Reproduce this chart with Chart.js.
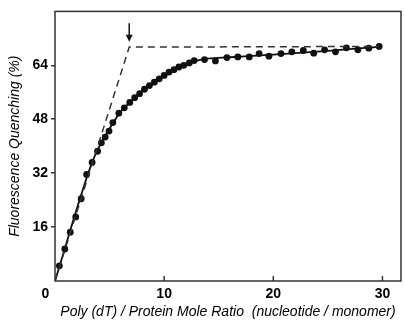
<!DOCTYPE html>
<html>
<head>
<meta charset="utf-8">
<script src="https://cdn.jsdelivr.net/npm/chart.js@4.4.0/dist/chart.umd.min.js"></script>
<style>
html, body { margin: 0; padding: 0; background: #fff; }
</style>
</head>
<body>
<canvas id="chartOne" width="405" height="320"></canvas>
<script>
// measured points (poly(dT)/protein ratio vs % quenching)
let ratio = [0.4, 0.9, 1.4, 1.9, 2.4, 2.9, 3.4, 3.9, 4.25, 4.6, 4.95, 5.3, 5.85, 6.35, 6.85, 7.3, 7.75, 8.2, 8.65, 9.1, 9.55, 10.0, 10.45, 10.9, 11.35, 11.8, 12.3, 12.75, 13.7, 14.7, 15.75, 16.75, 17.8, 18.7, 19.6, 20.7, 21.7, 22.75, 23.7, 24.7, 25.7, 26.7, 27.75, 28.75, 29.7];
let quench = [4.5, 9.5, 14.5, 19.0, 24.4, 31.6, 35.2, 38.5, 41.0, 42.7, 44.5, 47.0, 49.8, 51.4, 53.0, 54.4, 55.6, 56.9, 58.0, 59.0, 60.0, 61.0, 62.0, 62.7, 63.5, 64.0, 64.7, 65.4, 65.7, 65.3, 66.3, 66.5, 66.5, 67.5, 66.7, 67.5, 68.0, 68.4, 67.6, 68.6, 68.0, 69.2, 68.6, 69.1, 69.6];

// solid fitted curve
let fitX = [0, 3.4, 4.2, 5, 6, 7, 8, 9, 10, 11, 12, 13, 14, 16, 20, 25, 29.7];
let fitY = [0, 35.2, 40.8, 45.2, 50.2, 53.4, 56.4, 58.9, 61.0, 62.8, 64.4, 65.4, 66.0, 66.4, 67.2, 68.3, 69.5];

// dashed extrapolation lines
let dashX = [0, 6.8, 29.7];
let dashY = [0, 69.4, 69.6];

let xTicks = [0, 10, 20, 30];
let yTicks = [16, 32, 48, 64];
let arrowAt = [6.8, 76.5, 71]; // x, top, tip

function toXY(xs, ys) {
    return xs.map((v, i) => ({ x: v, y: ys[i] }));
}

const framePlugin = {
    id: 'frame',
    afterDatasetsDraw(chart) {
        const ctx = chart.ctx;
        const a = chart.chartArea;
        const sx = chart.scales.x, sy = chart.scales.y;
        ctx.save();
        ctx.strokeStyle = '#333';
        ctx.lineWidth = 1.5;
        ctx.strokeRect(a.left, a.top, a.right - a.left, a.bottom - a.top);
        // inner ticks on the x axis
        xTicks.forEach(v => {
            if (v === 0) return;
            const px = sx.getPixelForValue(v);
            ctx.beginPath();
            ctx.moveTo(px, a.bottom);
            ctx.lineTo(px, a.bottom - 5);
            ctx.stroke();
        });
        // arrow marking the break point
        const ax = sx.getPixelForValue(arrowAt[0]);
        const yTop = sy.getPixelForValue(arrowAt[1]);
        const yTip = sy.getPixelForValue(arrowAt[2]);
        ctx.strokeStyle = '#111';
        ctx.fillStyle = '#111';
        ctx.lineWidth = 1.5;
        ctx.beginPath();
        ctx.moveTo(ax, yTop);
        ctx.lineTo(ax, yTip - 5);
        ctx.stroke();
        ctx.beginPath();
        ctx.moveTo(ax - 3.5, yTip - 7);
        ctx.lineTo(ax + 3.5, yTip - 7);
        ctx.lineTo(ax, yTip);
        ctx.closePath();
        ctx.fill();
        ctx.restore();
    }
};

var ctxOne = document.getElementById('chartOne').getContext('2d');
var chartOne = new Chart(ctxOne, {
    type: 'scatter',
    data: {
        datasets: [{
            label: 'dashed',
            data: toXY(dashX, dashY),
            showLine: true,
            borderColor: '#333',
            borderWidth: 1.5,
            borderDash: [7, 5],
            pointRadius: 0
        }, {
            label: 'fit',
            data: toXY(fitX, fitY),
            showLine: true,
            borderColor: '#111',
            borderWidth: 1.8,
            cubicInterpolationMode: 'monotone',
            pointRadius: 0
        }, {
            label: 'data',
            data: toXY(ratio, quench),
            showLine: false,
            pointRadius: 3.4,
            pointBackgroundColor: '#111',
            pointBorderColor: '#111',
            pointBorderWidth: 0
        }]
    },
    options: {
        responsive: false,
        animation: false,
        layout: { padding: { top: 11, right: 1 } },
        plugins: {
            legend: { display: false },
            tooltip: { enabled: false }
        },
        scales: {
            x: {
                type: 'linear',
                min: 0,
                max: 31.7,
                afterBuildTicks: s => { s.ticks = xTicks.map(v => ({ value: v })); },
                afterFit: s => { s.height = 39; },
                grid: { display: true, drawOnChartArea: false, drawTicks: false },
                border: { display: false },
                ticks: {
                    padding: 5,
                    color: '#000',
                    maxRotation: 0,
                    // the 0 sits a little left of the corner in the original
                    callback: v => v === 0 ? '0     ' : v,
                    font: { family: "'Liberation Sans', Arial, sans-serif", size: 14, weight: 'bold' }
                },
                title: {
                    display: true,
                    text: 'Poly (dT) / Protein Mole Ratio  (nucleotide / monomer)',
                    color: '#000',
                    padding: { top: 0, bottom: 0 },
                    font: { family: "'Liberation Sans', Arial, sans-serif", size: 14, style: 'italic', lineHeight: 1.1 }
                }
            },
            y: {
                min: 0,
                max: 80,
                afterBuildTicks: s => { s.ticks = yTicks.map(v => ({ value: v })); },
                afterFit: s => { s.width = 55; },
                grid: { drawOnChartArea: false, drawTicks: true, tickLength: 4, color: '#333', lineWidth: 1.5 },
                border: { display: false },
                ticks: {
                    padding: 3,
                    color: '#000',
                    font: { family: "'Liberation Sans', Arial, sans-serif", size: 14, weight: 'bold' }
                },
                title: {
                    display: true,
                    text: 'Fluorescence Quenching (%)',
                    color: '#000',
                    padding: { top: 7, bottom: 0 },
                    font: { family: "'Liberation Sans', Arial, sans-serif", size: 14, style: 'italic', lineHeight: 1.1 }
                }
            }
        }
    },
    plugins: [framePlugin]
});
</script>
</body>
</html>
